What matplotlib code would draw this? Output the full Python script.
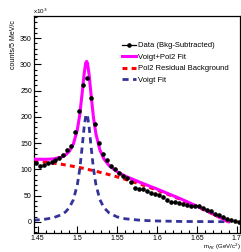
import matplotlib
matplotlib.use("Agg")
import matplotlib.pyplot as plt
from matplotlib.ticker import MultipleLocator
from matplotlib.lines import Line2D

plt.rcParams['font.family'] = ['Liberation Sans Narrow', 'Liberation Sans', 'DejaVu Sans']
plt.rcParams['mathtext.fontset'] = 'custom'
plt.rcParams['mathtext.rm'] = 'Liberation Sans Narrow'
plt.rcParams['mathtext.it'] = 'Liberation Sans Narrow:italic'

# Data (bkg-subtracted), counts in units of 10^3
mass = [1.4475, 1.4525, 1.4575, 1.4625, 1.4675, 1.4725, 1.4775, 1.4825, 1.4875, 1.4925,
        1.4975, 1.5025, 1.5075, 1.5125, 1.5175, 1.5225, 1.5275, 1.5325, 1.5375, 1.5425,
        1.5475, 1.5525, 1.5575, 1.5625, 1.5675, 1.5725, 1.5775, 1.5825, 1.5875, 1.5925,
        1.5975, 1.6025, 1.6075, 1.6125, 1.6175, 1.6225, 1.6275, 1.6325, 1.6375, 1.6425,
        1.6475, 1.6525, 1.6575, 1.6625, 1.6675, 1.6725, 1.6775, 1.6825, 1.6875, 1.6925,
        1.6975, 1.7025]
counts = [112, 107, 108, 112, 115, 117, 121, 127, 137, 145,
          171, 211, 260, 274, 236, 187, 150, 130, 118, 106,
          100, 94, 88, 84, 76, 64, 63, 62, 59, 56,
          53, 51, 47, 42, 38, 38, 36, 34, 32, 31,
          30, 30, 27, 23, 20, 16, 13, 9, 6, 4,
          1, 0]

# Fit curves
m_curve = [1.445, 1.46, 1.47, 1.48, 1.485, 1.49, 1.495, 1.50, 1.503, 1.506,
           1.5085, 1.5105, 1.5116, 1.5127, 1.5147, 1.5172, 1.5202, 1.5232, 1.5282, 1.5332,
           1.54, 1.55, 1.56, 1.58, 1.60, 1.63, 1.66, 1.69]
voigt_vals = [3.3, 5.4, 8.2, 13.8, 19.0, 27.5, 42.6, 71.6, 101, 143,
              181, 202, 205, 202, 181, 143, 101, 71.6, 42.6, 27.5,
              16.9, 9.6, 6.1, 3.1, 1.9, 1.0, 0.7, 0.5]
pol2_vals = [116.5, 114.0, 112.0, 109.8, 108.5, 107.2, 105.8, 104.4, 103.4, 102.5,
             101.7, 101.0, 100.6, 100.2, 99.5, 98.7, 97.6, 96.5, 94.6, 92.7,
             90.0, 85.8, 81.2, 71.5, 60.8, 42.8, 22.5, 0.0]
total_vals = [119.5, 119.2, 120.0, 123.5, 127.5, 134.7, 148.4, 176.0, 204.4, 245.5,
              282.7, 303.0, 305.6, 302.2, 280.5, 241.7, 198.6, 168.1, 137.2, 120.2,
              106.9, 95.4, 87.3, 74.6, 62.7, 43.8, 23.2, 0.5]

labels = ["Data (Bkg-Subtracted)", "Voigt+Pol2 Fit", "Pol2 Residual Background", "Voigt Fit"]

fig = plt.figure(figsize=(2.41, 2.52), dpi=100)
ax = fig.add_axes([34/241, 1-233/252, 206/241, 217/252])

l_tot, = ax.plot(m_curve, total_vals, color='#ff00ff', lw=2.2, zorder=3)
l_bkg, = ax.plot(m_curve, pol2_vals, color='#ff0000', lw=2.2, ls=(0, (1.6, 1.4)), zorder=2)
l_voi, = ax.plot(m_curve, voigt_vals, color='#333399', lw=2.0, ls=(0, (2.2, 1.6)), zorder=2)
ax.errorbar(mass, counts, yerr=[1.5]*len(counts), fmt='o', color='black', ms=2.3,
            elinewidth=0.6, capsize=0, zorder=4)
l_dat = Line2D([], [], color='black', lw=0.9, marker='o', ms=2.3)

ax.set_xlim(1.4455, 1.7042)
ax.set_ylim(-21, 392)

ax.xaxis.set_major_locator(MultipleLocator(0.05))
ax.xaxis.set_minor_locator(MultipleLocator(0.01))
ax.yaxis.set_major_locator(MultipleLocator(50))
ax.yaxis.set_minor_locator(MultipleLocator(10))
ax.tick_params(which='both', direction='in', top=False, right=False, width=0.8)
ax.tick_params(which='major', length=5, labelsize=5, pad=1.5)
ax.tick_params(which='minor', length=2.5)
ax.set_xticks([1.45, 1.5, 1.55, 1.6, 1.65, 1.7])
ax.set_xticklabels(['1.45', '1.5', '1.55', '1.6', '1.65', '1.7'])
ax.tick_params(axis='x', pad=1.2)
for s in ax.spines.values():
    s.set_linewidth(0.9)

fig.text(33/241, 1-11/252, r'x10$^{3}$', fontsize=4.5, ha='left', va='center')
fig.text(14/241, 1-45/252, 'counts/5 MeV/c', fontsize=5, rotation=90, ha='center', va='center')
fig.text(240.5/241, 1-251.8/252, r'm$_{\Lambda K}$ (GeV/c$^{2}$)', fontsize=4.3, ha='right', va='bottom')

leg = ax.legend(handles=[l_dat, l_tot, l_bkg, l_voi], labels=labels, loc='upper left',
                bbox_to_anchor=(0.41, 0.895), frameon=False, fontsize=5.5,
                handlelength=1.9, handletextpad=0.3, labelspacing=0.55, borderaxespad=0)

fig.savefig('out.png', dpi=100)
